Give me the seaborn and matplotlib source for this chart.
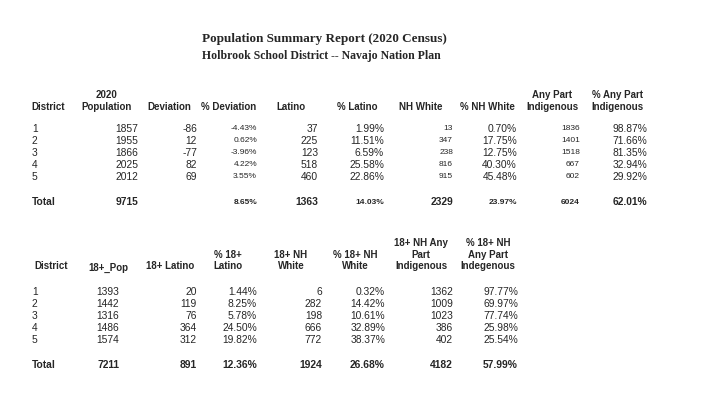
import matplotlib
matplotlib.use("Agg")
import matplotlib.pyplot as plt
import seaborn as sns

# ---- table 1: total population ----
districts = ["1", "2", "3", "4", "5"]
pop_2020 = [1857, 1955, 1866, 2025, 2012]
deviation = [-86, 12, -77, 82, 69]
pct_deviation = [-4.43, 0.62, -3.96, 4.22, 3.55]
latino = [37, 225, 123, 518, 460]
pct_latino = [1.99, 11.51, 6.59, 25.58, 22.86]
nh_white = [13, 347, 238, 816, 915]
pct_nh_white = [0.70, 17.75, 12.75, 40.30, 45.48]
any_indig = [1836, 1401, 1518, 667, 602]
pct_any_indig = [98.87, 71.66, 81.35, 32.94, 29.92]
totals_1 = ["Total", "9715", "", "8.65%", "1363", "14.03%", "2329", "23.97%", "6024", "62.01%"]

# ---- table 2: voting age population ----
pop_18 = [1393, 1442, 1316, 1486, 1574]
latino_18 = [20, 119, 76, 364, 312]
pct_latino_18 = [1.44, 8.25, 5.78, 24.50, 19.82]
nh_white_18 = [6, 282, 198, 666, 772]
pct_nh_white_18 = [0.32, 14.42, 10.61, 32.89, 38.37]
indig_18 = [1362, 1009, 1023, 386, 402]
pct_indig_18 = [97.77, 69.97, 77.74, 25.98, 25.54]
totals_2 = ["Total", "7211", "891", "12.36%", "1924", "26.68%", "4182", "57.99%"]

headers_1 = [["District"], ["2020", "Population"], ["Deviation"], ["% Deviation"],
             ["Latino"], ["% Latino"], ["NH White"], ["% NH White"],
             ["Any Part", "Indigenous"], ["% Any Part", "Indigenous"]]
headers_2 = [["District"], ["18+_Pop"], ["18+ Latino"], ["% 18+", "Latino"],
             ["18+ NH", "White"], ["% 18+ NH", "White"],
             ["18+ NH Any", "Part", "Indigenous"], ["% 18+ NH", "Any Part", "Indegenous"]]


def pct(vals):
    return [f"{v:.2f}%" for v in vals]


def ints(vals):
    return [str(v) for v in vals]


cols_1 = [districts, ints(pop_2020), ints(deviation), pct(pct_deviation),
          ints(latino), pct(pct_latino), ints(nh_white), pct(pct_nh_white),
          ints(any_indig), pct(pct_any_indig)]
cols_2 = [districts, ints(pop_18), ints(latino_18), pct(pct_latino_18),
          ints(nh_white_18), pct(pct_nh_white_18), ints(indig_18), pct(pct_indig_18)]

# layout (pixels)
hx_1 = [48, 107, 169, 229, 291, 357, 421, 487, 552, 617]
rx_1 = [32, 138, 197, 257, 318, 384, 453, 517, 580, 647]
small_1 = [False, False, False, True, False, False, True, False, True, False]
total_small_1 = [False, False, False, True, False, True, False, True, True, False]

hx_2 = [51, 108, 170, 228, 291, 355, 421, 488]
rx_2 = [32, 119, 197, 257, 322, 385, 453, 518]
hdy_2 = [0, 2, 0, 0, 0, 0, 0, 0]

BIG, SMALL, HEAD = 7.4, 6.0, 7.0

sns.set_style("white")
plt.rcParams["font.family"] = ["Liberation Sans", "DejaVu Sans"]

fig = plt.figure(figsize=(7.22, 4.16), dpi=100)
ax = fig.add_axes([0, 0, 1, 1])
ax.set_xlim(0, 722)
ax.set_ylim(416, 0)
ax.axis("off")

# title
ax.text(202, 39, "Population Summary Report (2020 Census)", family="Liberation Serif",
        fontsize=9.45, fontweight="bold", ha="left", va="center")
ax.text(202, 56, "Holbrook School District -- Navajo Nation Plan", family="Liberation Serif",
        fontsize=8.5, fontweight="bold", ha="left", va="center")


def draw_table(headers, cols, totals, hx, rx, head_y, line_gap, row_y, total_y,
               small=None, total_small=None, head_dy=None):
    n = len(cols)
    small = small or [False] * n
    total_small = total_small or [False] * n
    head_dy = head_dy or [0] * n
    for i in range(n):
        lines = headers[i]
        for k, line in enumerate(lines):
            y = head_y + head_dy[i] - (len(lines) - 1 - k) * line_gap
            ax.text(hx[i], y, line, fontsize=HEAD, fontweight="bold",
                    ha="center", va="center")
        ha = "left" if i == 0 else "right"
        for j, val in enumerate(cols[i]):
            ax.text(rx[i], row_y[j], val, fontsize=SMALL if small[i] else BIG,
                    ha=ha, va="center")
        if totals[i]:
            ax.text(rx[i], total_y, totals[i], fontsize=SMALL if total_small[i] else BIG,
                    fontweight="bold", ha=ha, va="center")


draw_table(headers_1, cols_1, totals_1, hx_1, rx_1, 107.5, 12,
           [129, 141, 153, 165, 177], 202, small_1, total_small_1)
draw_table(headers_2, cols_2, totals_2, hx_2, rx_2, 266, 11.5,
           [292, 304, 316, 328, 340], 365, head_dy=hdy_2)

fig.savefig("out.png", dpi=100)
